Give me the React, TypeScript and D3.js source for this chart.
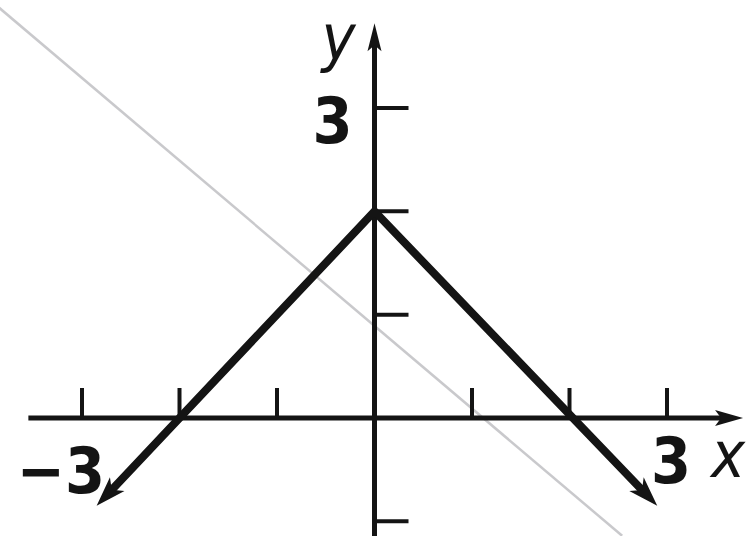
import React from 'react';
import * as d3 from 'd3';

const W = 748;
const H = 536;

// graph of y = 2 - |x| (scanned textbook figure)
const xTicks = [-3, -2, -1, 1, 2, 3];
const yTicks = [-1, 1, 2, 3];
const curvePoints: [number, number][] = [[-2.85, -0.85], [0, 2], [2.9, -0.85]];
const xAxisRange = [-3.55, 3.78];
const yAxisRange = [-1.3, 3.82];
// faint bleed-through line from the back of the page
const scanLine: [number, number][] = [[-3.85, 3.97], [2.54, -1.14]];

const ink = '#141414';
const font = "'Liberation Sans Narrow', 'DejaVu Sans Condensed', 'Liberation Sans', sans-serif";

function arrowHead(tip: [number, number], from: [number, number], len: number, half: number, notch: number) {
  const dx = tip[0] - from[0];
  const dy = tip[1] - from[1];
  const d = Math.hypot(dx, dy);
  const ux = dx / d, uy = dy / d;
  const px = -uy, py = ux;
  const bx = tip[0] - ux * len, by = tip[1] - uy * len;
  const nx = tip[0] - ux * (len - notch), ny = tip[1] - uy * (len - notch);
  return `M${tip[0]},${tip[1]}L${bx + px * half},${by + py * half}L${nx},${ny}L${bx - px * half},${by - py * half}Z`;
}

function shorten(tip: [number, number], from: [number, number], by: number): [number, number] {
  const dx = tip[0] - from[0];
  const dy = tip[1] - from[1];
  const d = Math.hypot(dx, dy);
  return [tip[0] - dx / d * by, tip[1] - dy / d * by];
}

export default function App() {
  const x = d3.scaleLinear().domain([-3, 3]).range([82, 667]);
  const y = d3.scaleLinear().domain([0, 3]).range([418, 108]);

  const pts = curvePoints.map(p => [x(p[0]), y(p[1])] as [number, number]);
  const first = pts[0], last = pts[pts.length - 1];
  const trimmed = [shorten(first, pts[1], 14), ...pts.slice(1, -1), shorten(last, pts[pts.length - 2], 14)];
  const line = d3.line<[number, number]>().x(d => d[0]).y(d => d[1]).curve(d3.curveLinear);

  const x0 = x(0), y0 = y(0);
  const xEnd: [number, number] = [x(xAxisRange[1]), y0];
  const yEnd: [number, number] = [x0, y(yAxisRange[1])];

  return (
    <svg width={W} height={H} style={{ position: 'absolute', left: 0, top: 0, background: '#fff' }}>
      <rect width={W} height={H} fill="#fff" />
      <line x1={x(scanLine[0][0])} y1={y(scanLine[0][1])} x2={x(scanLine[1][0])} y2={y(scanLine[1][1])}
        stroke="#c9c9cc" strokeWidth={2.5} />

      {/* axes */}
      <line x1={x(xAxisRange[0])} y1={y0} x2={xEnd[0] - 14} y2={y0} stroke={ink} strokeWidth={5} />
      <path d={arrowHead(xEnd, [x0, y0], 28, 8, 6)} fill={ink} />
      <line x1={x0} y1={y(yAxisRange[0])} x2={x0} y2={yEnd[1] + 14} stroke={ink} strokeWidth={5} />
      <path d={arrowHead(yEnd, [x0, y0], 28, 7, 6)} fill={ink} />

      {xTicks.map(t => (
        <line key={'xt' + t} x1={x(t)} x2={x(t)} y1={y0} y2={y0 - 30} stroke={ink} strokeWidth={4} />
      ))}
      {yTicks.map(t => (
        <line key={'yt' + t} x1={x0} x2={x0 + 34} y1={y(t)} y2={y(t)} stroke={ink} strokeWidth={4} />
      ))}

      {/* graph */}
      <path d={line(trimmed) || ''} fill="none" stroke={ink} strokeWidth={8} strokeLinejoin="miter" />
      <path d={arrowHead(first, pts[1], 30, 10, 8)} fill={ink} />
      <path d={arrowHead(last, pts[pts.length - 2], 30, 10, 8)} fill={ink} />

      {/* labels */}
      <g fontFamily={font} fontWeight="bold" fill={ink} fontSize={64}>
        <text x={x0 - 22} y={y(3) + 35} textAnchor="end">3</text>
        <text x={x(-3) - 21} y={y0 + 75} textAnchor="middle">−3</text>
        <text x={x(3) + 4} y={y0 + 65} textAnchor="middle">3</text>
        <text x={x(3) + 61} y={y0 + 59} textAnchor="middle" fontStyle="italic" fontWeight="normal">x</text>
        <text x={x0 - 36} y={60} textAnchor="middle" fontStyle="italic" fontWeight="normal">y</text>
      </g>
    </svg>
  );
}
